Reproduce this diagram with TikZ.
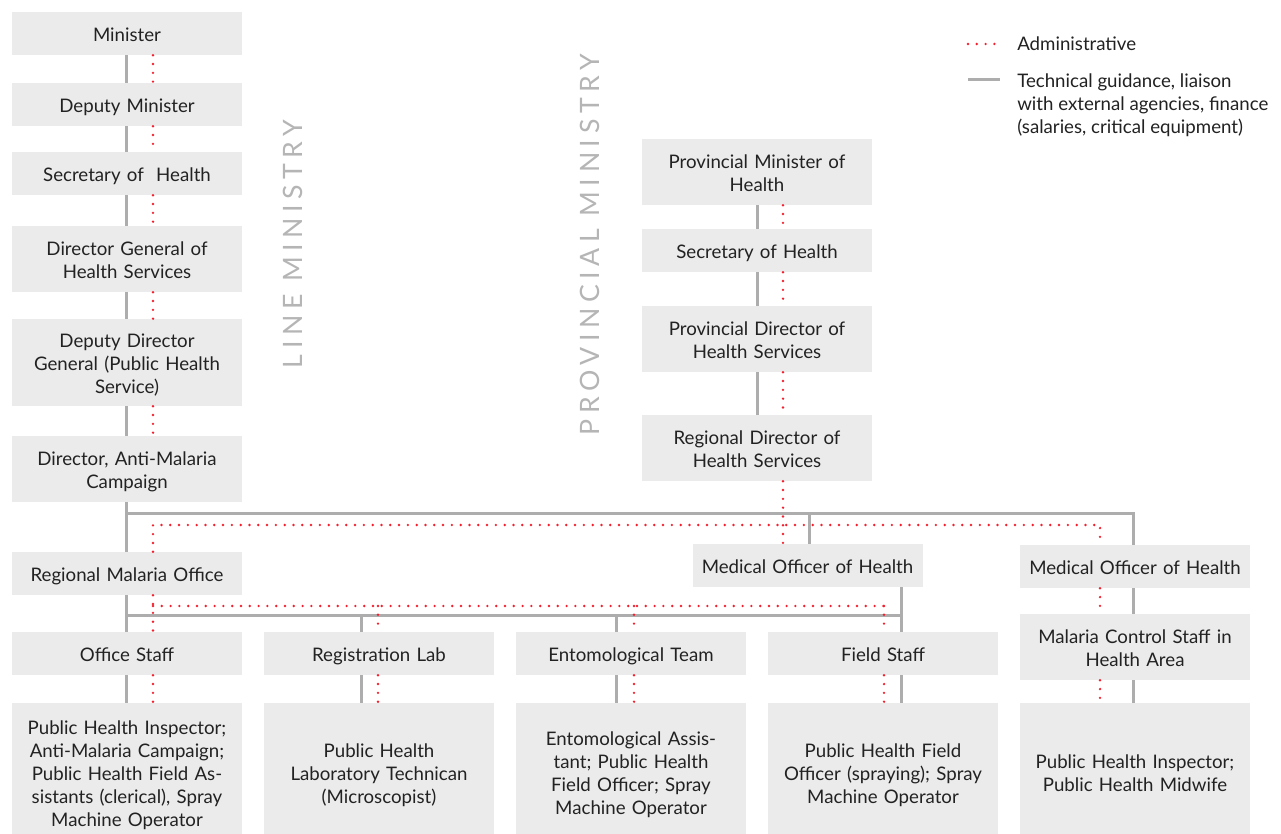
\documentclass[tikz,border=0pt]{standalone}
\usepackage{fontspec}
\setmainfont{Lato}
\newfontfamily\spacedfont[LetterSpace=21]{Lato}
\usepackage{tikz}
\usepackage{xcolor}
\definecolor{boxgray}{HTML}{EBEBEB}
\definecolor{linegray}{HTML}{ADADAD}
\definecolor{dotred}{HTML}{F2202E}
\definecolor{textgray}{HTML}{222222}
\definecolor{labgray}{HTML}{B5B5B5}
\newcommand{\boxstrut}{\rule[-2.6pt]{0pt}{17.25pt}}

\tikzset{
	box/.style={fill=boxgray, text=textgray, minimum width=172.5pt, text width=170pt, align=center, inner sep=0pt, font=\fontsize{14}{17.25}\selectfont, execute at begin node=\boxstrut, execute at end node=\boxstrut},
	oneline/.style={box, minimum height=32.25pt},
	twoline/.style={box, minimum height=49.5pt},
	threeline/.style={box, minimum height=65.25pt},
	tallbox/.style={box, minimum height=103.5pt},
	tech/.style={draw=linegray, line width=2.25pt},
	admin/.style={draw=dotred, line width=2pt, line cap=round, dash pattern=on 0pt off 6.6pt},
	sidelab/.style={rotate=90, text=labgray, font=\spacedfont\fontsize{20}{20}\selectfont},
	keytext/.style={text=textgray, align=left, inner sep=0pt, font=\fontsize{14}{17.25}\selectfont}
}

\begin{document}
\begin{tikzpicture}[x=0.75pt,y=-0.75pt]
		
		\useasboundingbox[fill=white] (0,0) rectangle (1281,834);
		
		% line ministry
		\node[oneline] (min) at (127,33.5) {Minister};
		\node[oneline] (dmin) at (127,104.5) {Deputy Minister};
		\node[oneline] (sec) at (127,173.5) {Secretary of \ Health};
		\node[twoline] (dg) at (127,259) {Director General of\\Health Services};
		\node[threeline] (ddg) at (127,362.5) {Deputy Director\\General (Public Health\\Service)};
		\node[twoline] (dir) at (127,469) {Director, Anti-Malaria\\Campaign};
		\node[oneline] (rmo) at (127,573.5) {Regional Malaria Office};
		\node[sidelab] (linelab) at (293,244) {LINE MINISTRY};
		
		% provincial ministry
		\node[twoline] (pmin) at (757,172) {Provincial Minister of\\Health};
		\node[oneline] (psec) at (757,250.5) {Secretary of Health};
		\node[twoline] (pdir) at (757,339) {Provincial Director of\\Health Services};
		\node[twoline] (rdir) at (757,448) {Regional Director of\\Health Services};
		\node[sidelab] (provlab) at (590,245) {PROVINCIAL MINISTRY};
		
		\node[oneline] (moh) at (807.5,565.5) {Medical Officer of Health};
		\node[oneline] (mohb) at (1135,566.5) {Medical Officer of Health};
		\node[twoline] (mcs) at (1135,647) {Malaria Control Staff in\\Health Area};
		\node[tallbox] (mcsb) at (1135,772) {Public Health Inspector;\\Public Health Midwife};
		
		% units
		\node[oneline] (ofs) at (127,653.5) {Office Staff};
		\node[oneline] (lab) at (379,653.5) {Registration Lab};
		\node[oneline] (ent) at (631,653.5) {Entomological Team};
		\node[oneline] (fld) at (883,653.5) {Field Staff};
		\node[tallbox] (ofsb) at (127,772) {Public Health Inspector;\\Anti-Malaria Campaign;\\Public Health Field As-\\sistants (clerical), Spray\\Machine Operator};
		\node[tallbox] (labb) at (379,772) {Public Health\\Laboratory Technican\\(Microscopist)};
		\node[tallbox] (entb) at (631,772) {Entomological Assis-\\tant; Public Health\\Field Officer; Spray\\Machine Operator};
		\node[tallbox] (fldb) at (883,772) {Public Health Field\\Officer (spraying); Spray\\Machine Operator};
		
		% technical lines
		\foreach \a/\b in {min/dmin,dmin/sec,sec/dg,dg/ddg,ddg/dir,dir/rmo,rmo/ofs}
		\draw[tech] (126,0 |- \a.south) -- (126,0 |- \b.north);
		\foreach \a/\b in {pmin/psec,psec/pdir,pdir/rdir}
		\draw[tech] (757,0 |- \a.south) -- (757,0 |- \b.north);
		\foreach \a/\b in {mohb/mcs,mcs/mcsb}
		\draw[tech] (1133,0 |- \a.south) -- (1133,0 |- \b.north);
		\coordinate (barL) at (126,513);
		\coordinate (barR) at (1133,513);
		\draw[tech] (barL) -- (barR) -- (barR |- mohb.north);
		\draw[tech] (809,0 |- barL) -- (809,0 |- moh.north);
		\coordinate (subL) at (126,615);
		\coordinate (subR) at (901,615);
		\draw[tech] (subL) -- (subR);
		\draw[tech] (subR |- moh.south) -- (subR |- fld.north);
		\foreach \x/\n in {361/lab,616/ent}
		\draw[tech] (\x,0 |- subL) -- (\x,0 |- \n.north);
		\foreach \x/\a/\b in {126/ofs/ofsb,361/lab/labb,616/ent/entb,901/fld/fldb}
		\draw[tech] (\x,0 |- \a.south) -- (\x,0 |- \b.north);
		
		% administrative lines
		\foreach \a/\b in {min/dmin,dmin/sec,sec/dg,dg/ddg,ddg/dir,rmo/ofs}
		\draw[admin] (153,0 |- \a.south) -- (153,0 |- \b.north);
		\foreach \a/\b in {pmin/psec,psec/pdir,pdir/rdir,rdir/moh}
		\draw[admin] (783,0 |- \a.south) -- (783,0 |- \b.north);
		\foreach \a/\b in {mohb/mcs,mcs/mcsb}
		\draw[admin] (1100,0 |- \a.south) -- (1100,0 |- \b.north);
		\coordinate (admL) at (153,525);
		\coordinate (admR) at (1100,525);
		\draw[admin] (153,0 |- rmo.north) -- (admL) -- (admR) -- (admR |- mohb.north);
		\coordinate (sadmL) at (153,606);
		\coordinate (sadmR) at (884,606);
		\draw[admin] (sadmL) -- (sadmR);
		\foreach \x/\n in {378/lab,634/ent,884/fld}
		\draw[admin] (\x,0 |- sadmL) -- (\x,0 |- \n.north);
		\foreach \x/\a/\b in {153/ofs/ofsb,378/lab/labb,634/ent/entb,884/fld/fldb}
		\draw[admin] (\x,0 |- \a.south) -- (\x,0 |- \b.north);
		
		% key
		\coordinate (keyA) at (968,44);
		\coordinate (keyB) at (1000,44);
		\coordinate (keyC) at (968,80);
		\coordinate (keyD) at (1000,80);
		\draw[admin] (keyA) -- (keyB);
		\draw[tech] (keyC) -- (keyD);
		\node[keytext, anchor=west] (keyadm) at (1017,44) {Administrative};
		\node[keytext, anchor=north west] (keytech) at (1017,73) {Technical guidance, liaison\\with external agencies, finance\\(salaries, critical equipment)};
		
\end{tikzpicture}
\end{document}
